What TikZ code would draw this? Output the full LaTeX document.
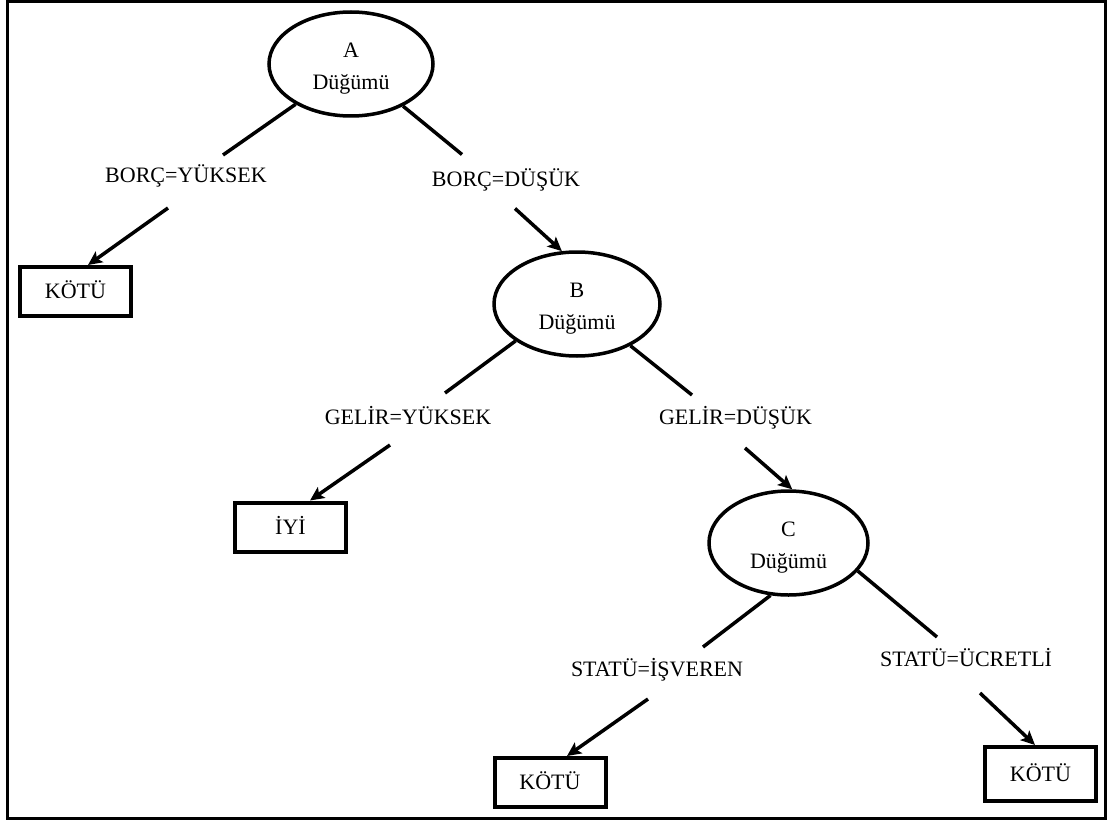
\documentclass[tikz,border=0pt]{standalone}
\usepackage{fontspec}
\setmainfont{Liberation Serif}
\usetikzlibrary{shapes.geometric,arrows.meta}
\begin{document}
\begin{tikzpicture}[x=1pt,y=-1pt,
  every node/.style={font=\fontsize{22}{32}\selectfont},
  dnode/.style={ellipse,draw,line width=3.5pt,minimum width=164pt,minimum height=104pt,inner sep=0pt,align=center},
  leaf/.style={rectangle,draw,line width=4pt,minimum width=111pt,minimum height=49pt,inner sep=0pt,text height=14.6pt,text depth=0pt},
  lbl/.style={inner sep=0pt,text height=14.6pt,text depth=0pt},
  edge/.style={line width=3.5pt},
  arr/.style={line width=3.5pt,-{Stealth[length=14pt,width=13pt,inset=3pt]}}]
\useasboundingbox (0,0) rectangle (1110,821);
\draw[line width=3pt] (7,1.5) rectangle (1105.5,818.5);

\node[dnode] (A) at (351,64) {\rule{0pt}{24pt}A\\Düğümü};
\node[dnode,minimum width=166pt] (B) at (577,304) {\rule{0pt}{24pt}B\\Düğümü};
\node[dnode,minimum width=159pt] (C) at (788.5,543) {\rule{0pt}{24pt}C\\Düğümü};

\node[lbl] (l1) at (186,175.5) {BORÇ=YÜKSEK};
\node[lbl] (l2) at (506,179) {BORÇ=DÜŞÜK};
\node[lbl] (l3) at (408,417.5) {GELİR=YÜKSEK};
\node[lbl] (l4) at (735.5,417.5) {GELİR=DÜŞÜK};
\node[lbl] (l5) at (657,669.5) {STATÜ=İŞVEREN};
\node[lbl] (l6) at (966,659.5) {STATÜ=ÜCRETLİ};

\node[leaf] (k1) at (75.5,291.5) {KÖTÜ};
\node[leaf] (iyi) at (290.5,527) {İYİ};
\node[leaf] (k2) at (550,782.5) {KÖTÜ};
\node[leaf,minimum height=54pt] (k3) at (1040.5,774) {KÖTÜ};

\draw[edge] (A.216) -- ([shift={(37pt,13pt)}]l1.north);
\draw[arr] ([shift={(-18pt,-25pt)}]l1.south) -- ([shift={(12.5pt,0pt)}]k1.north);
\draw[edge] (A.321) -- ([shift={(-44pt,17pt)}]l2.north);
\draw[arr] ([shift={(9pt,-22pt)}]l2.south) -- (B.106);
\draw[edge] (B.211) -- ([shift={(37pt,17pt)}]l3.north);
\draw[arr] ([shift={(-18pt,-20pt)}]l3.south) -- ([shift={(19.5pt,0pt)}]iyi.north);
\draw[edge] (B.322) -- ([shift={(-43.5pt,15pt)}]l4.north);
\draw[arr] ([shift={(9.5pt,-23pt)}]l4.south) -- (C.86);
\draw[edge] (C.251) -- ([shift={(46pt,15pt)}]l5.north);
\draw[arr] ([shift={(-9pt,-22pt)}]l5.south) -- ([shift={(17pt,0pt)}]k2.north);
\draw[edge] (C.338) -- ([shift={(-29pt,15pt)}]l6.north);
\draw[arr] ([shift={(14pt,-26pt)}]l6.south) -- ([shift={(-5.5pt,0pt)}]k3.north);
\end{tikzpicture}
\end{document}
